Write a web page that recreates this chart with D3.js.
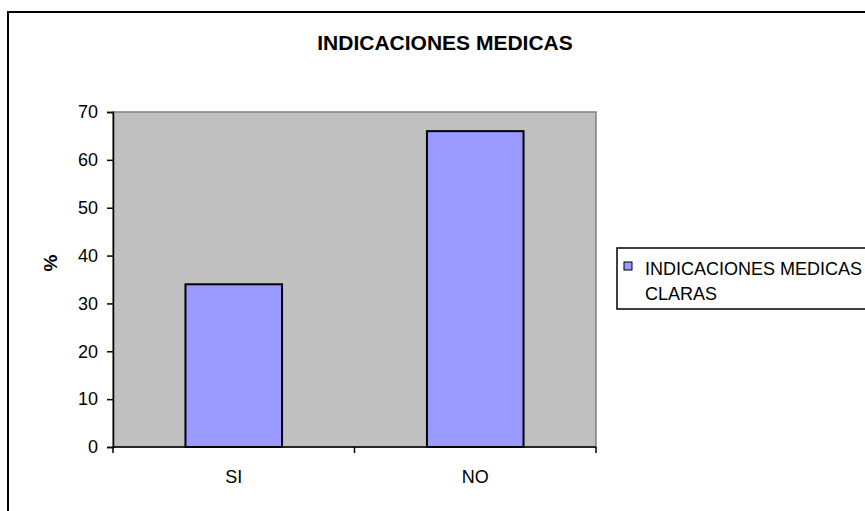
<!DOCTYPE html>
<html><head><meta charset="utf-8">
<script src="https://cdn.jsdelivr.net/npm/d3@7"></script>
<style>body{margin:0;background:#fff}svg{display:block}text{font-family:"Liberation Sans",Arial,sans-serif}</style>
</head><body><svg id="c" width="865" height="511"></svg>
<script>
const categories = ["SI", "NO"];
const values = [34, 66];
const yTicks = [0, 10, 20, 30, 40, 50, 60, 70];
const title = "INDICACIONES MEDICAS";
const yLabel = "%";
const legendLines = ["INDICACIONES MEDICAS", "CLARAS"];

const svg = d3.select("#c");
svg.append("rect").attr("x", 8).attr("y", 12).attr("width", 870).attr("height", 520)
  .attr("fill", "#fff").attr("stroke", "#000").attr("stroke-width", 2);

const L = 113, R = 596, T = 112, B = 447;
const x = d3.scaleBand().domain(categories).range([L, R]).paddingInner(0.6).paddingOuter(0.3);
const xb = d3.scaleBand().domain(categories).range([L, R]);
const y = d3.scaleLinear().domain([0, 70]).range([B, T]);

svg.append("rect").attr("x", L).attr("y", T).attr("width", R - L).attr("height", B - T)
  .attr("fill", "#c0c0c0").attr("stroke", "#808080").attr("stroke-width", 1.5);

svg.append("g").selectAll("rect").data(values).join("rect")
  .attr("x", (d, i) => x(categories[i])).attr("width", x.bandwidth())
  .attr("y", d => y(d)).attr("height", d => B - y(d))
  .attr("fill", "#9999ff").attr("stroke", "#000").attr("stroke-width", 2);

const ya = svg.append("g").attr("transform", `translate(${L},0)`)
  .call(d3.axisLeft(y).tickValues(yTicks).tickSize(6).tickPadding(9).tickFormat(d3.format("d")));
ya.selectAll("text").attr("font-size", 18).attr("fill", "#000").style("font-family", '"Liberation Sans",Arial,sans-serif');
ya.select(".domain").attr("stroke", "#000").attr("stroke-width", 1.5);
ya.selectAll(".tick line").attr("stroke", "#000").attr("stroke-width", 1.5);

const xa = svg.append("g").attr("transform", `translate(0,${B})`)
  .call(d3.axisBottom(xb).tickSize(0).tickPadding(23));
xa.selectAll("text").attr("font-size", 18).attr("fill", "#000").style("font-family", '"Liberation Sans",Arial,sans-serif');
xa.select(".domain").remove();
svg.append("line").attr("x1", L).attr("x2", R).attr("y1", B).attr("y2", B).attr("stroke", "#000").attr("stroke-width", 1.5);
const bounds = [L, L + xb.step(), R];
svg.append("g").selectAll("line").data(bounds).join("line")
  .attr("x1", d => d).attr("x2", d => d).attr("y1", B).attr("y2", B + 6)
  .attr("stroke", "#000").attr("stroke-width", 1.5);

svg.append("text").attr("x", 445).attr("y", 50).attr("text-anchor", "middle")
  .attr("font-size", 21).attr("font-weight", "bold").text(title);

svg.append("text").attr("transform", "translate(57,263) rotate(-90)")
  .attr("text-anchor", "middle").attr("font-size", 19).attr("font-weight", "bold").text(yLabel);

svg.append("rect").attr("x", 617).attr("y", 248).attr("width", 260).attr("height", 61)
  .attr("fill", "#fff").attr("stroke", "#000").attr("stroke-width", 1.5);
svg.append("rect").attr("x", 624).attr("y", 262).attr("width", 8).attr("height", 8)
  .attr("fill", "#9999ff").attr("stroke", "#000").attr("stroke-width", 1);
svg.append("g").selectAll("text").data(legendLines).join("text")
  .attr("x", 645).attr("y", (d, i) => 275 + i * 25)
  .attr("font-size", 18).text(d => d);
</script></body></html>
